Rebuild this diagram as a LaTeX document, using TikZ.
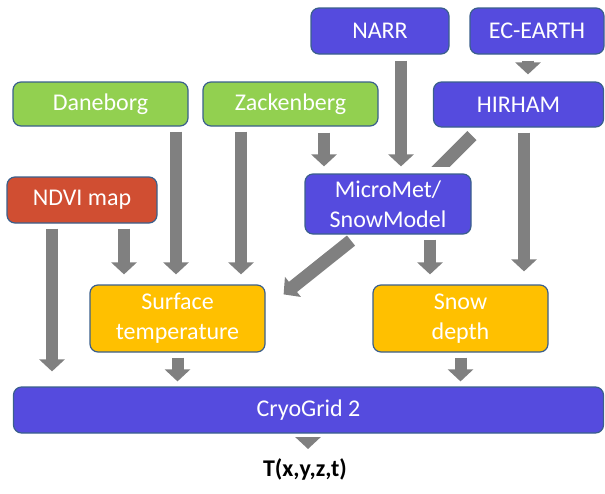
\documentclass[tikz,border=0pt]{standalone}
\usepackage{fontspec}
\setmainfont{Carlito}
\usepackage{tikz}
\usetikzlibrary{arrows.meta}

\definecolor{modelblue}{RGB}{85,75,222}
\definecolor{stationgreen}{RGB}{146,208,80}
\definecolor{ndvired}{RGB}{208,78,50}
\definecolor{outputorange}{RGB}{255,192,0}
\definecolor{edgeblue}{RGB}{58,95,140}
\definecolor{arrowgray}{RGB}{128,128,128}

\begin{document}
\begin{tikzpicture}[x=1pt,y=-1pt,
	box/.style={draw=edgeblue,line width=1.2pt,rounded corners=8pt,text=white,align=center,inner sep=0pt,font=\fontsize{24}{30}\selectfont},
	flow/.style={draw=arrowgray,line width=12pt,-{Triangle[width=25pt,length=12pt]},shorten <=5pt,shorten >=10pt}]
	\useasboundingbox (0,0) rectangle (605,493);
	% Inputs %
	\node [box,fill=modelblue,minimum width=138pt,minimum height=46pt] (narr) at (380,31) {NARR};
	\node [box,fill=modelblue,minimum width=134pt,minimum height=46pt] (ecearth) at (537,31) {EC-EARTH};
	\node [box,fill=modelblue,minimum width=170pt,minimum height=45pt] (hirham) at (518.5,104.5) {HIRHAM};
	\node [box,fill=stationgreen,minimum width=175pt,minimum height=44pt] (dane) at (100.5,104) {Daneborg};
	\node [box,fill=stationgreen,minimum width=175pt,minimum height=44pt] (zack) at (290.5,104) {Zackenberg};
	\node [box,fill=ndvired,minimum width=150pt,minimum height=46pt] (ndvi) at (82,200) {NDVI map};
	\node [box,fill=modelblue,minimum width=166pt,minimum height=60pt] (micro) at (388,204) {MicroMet/\\SnowModel};
	% Forcing %
	\node [box,fill=outputorange,minimum width=175pt,minimum height=67pt] (surf) at (177.5,318.5) {Surface\\temperature};
	\node [box,fill=outputorange,minimum width=175pt,minimum height=67pt] (snow) at (460.5,318.5) {Snow\\depth};
	% Model and Result %
	\node [box,fill=modelblue,minimum width=590pt,minimum height=46pt] (cryo) at (308.5,410) {CryoGrid 2};
	\node [font=\fontsize{24}{30}\selectfont\bfseries,inner sep=0pt] (result) at (305,469) {T(x,y,z,t)};
	% Arrows %
	\foreach \a/\b/\x in {ndvi/surf/124, dane/surf/176, zack/surf/241, micro/snow/430}
		\draw [flow] (\a.south -| \x,0) -- (\b.north -| \x,0);
	\foreach \a/\b/\x in {narr/micro/401, zack/micro/324, ecearth/hirham/528}
		\draw [flow,shorten <=6pt,shorten >=7pt] (\a.south -| \x,0) -- (\b.north -| \x,0);
	\draw [flow,shorten >=13pt] (hirham.south -| 524,0) -- (snow.north -| 524,0);
	\draw [flow,shorten >=15pt] (ndvi.south -| 52,0) -- (cryo.north -| 52,0);
	\foreach \a in {surf, snow} \draw [flow,shorten >=5pt] (\a.south) -- (cryo.north -| \a.south);
	\draw [flow,shorten >=9pt] (cryo.south -| 308,0) -- (result.north -| 308,0);
	\draw [flow,line width=13pt,shorten <=0pt,shorten >=0pt] ([xshift=-37pt,yshift=-6pt]micro.south) -- ([xshift=18pt,yshift=-10pt]surf.north east);
	\begin{scope}
		\clip ([yshift=7pt]micro.north west) rectangle (hirham.south east);
		\draw [draw=arrowgray,line width=13pt] ([xshift=39pt,yshift=-8pt]hirham.south west) -- ++(-50,50);
	\end{scope}
\end{tikzpicture}
\end{document}
